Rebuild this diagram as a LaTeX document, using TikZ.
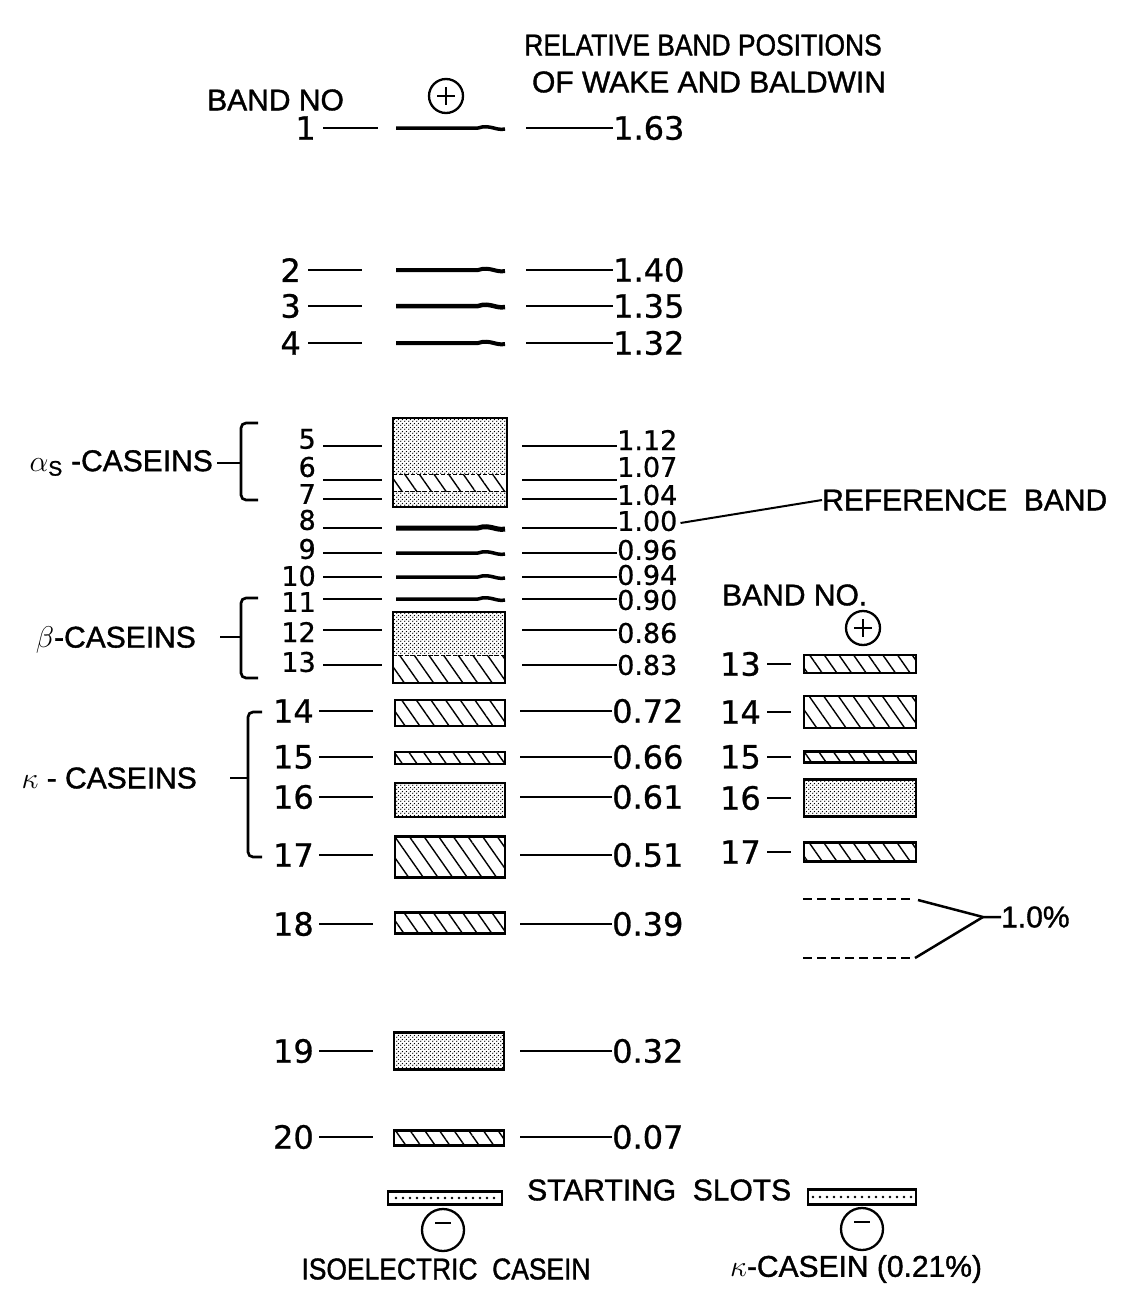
\RequirePackage{fix-cm}
\documentclass[tikz,border=0pt]{standalone}
\usepackage{fontspec}
\setmainfont{Liberation Sans}[FakeBold=1.2]
\newfontfamily\wordfont{Liberation Sans}[FakeBold=1.2]
\newfontfamily\condfont{Liberation Sans}[FakeStretch=0.88, FakeBold=1.2]
\newfontfamily\numfont{DejaVu Sans}[FakeBold=0.8]
\usetikzlibrary{patterns.meta, calc}

\tikzdeclarepattern{
  name=stipple,
  type=uncolored,
  bounding box={(0pt,0pt) and (4pt,4pt)},
  tile size={(4pt,4pt)},
  code={
    \fill (1pt,1pt) circle (0.8pt);
    \fill (3pt,3pt) circle (0.8pt);
  }
}

\begin{document}
\begin{tikzpicture}[
    x=1pt, y=-1pt,
    word/.style={font=\wordfont\fontsize{30}{34}\selectfont, inner sep=0pt},
    cword/.style={font=\condfont\fontsize{30}{34}\selectfont, inner sep=0pt},
    num/.style={font=\numfont\fontsize{32}{34}\selectfont, inner sep=0pt},
    numsm/.style={font=\numfont\fontsize{27}{28}\selectfont, inner sep=0pt},
    lead/.style={line width=2.5pt},
    bandline/.style={line width=4pt},
    hatchbox/.style={rectangle, draw, line width=2.7pt, minimum width=110pt, pattern={Lines[angle=-55, distance=12pt, line width=1.4pt]}},
    dotbox/.style={rectangle, draw, line width=2.7pt, minimum width=110pt, pattern=stipple},
    brk/.style={line width=2.7pt, rounded corners=5pt},
    pole/.style={circle, draw, line width=2.3pt, minimum size=34pt, inner sep=0pt},
    anode/.style={pole, path picture={\draw[line width=2.3pt] ($(path picture bounding box.center)+(-9,0)$) -- ++(18,0) ($(path picture bounding box.center)+(0,-9)$) -- ++(0,18);}},
    cathode/.style={pole, minimum size=42pt, path picture={\draw[line width=2.3pt] ($(path picture bounding box.center)+(-8,-7)$) -- ++(16,0);}},
    slot/.style={rectangle, draw, line width=2.5pt, path picture={\foreach \i in {-7,...,7} \fill ($(path picture bounding box.center)+(\i*7,0)$) circle (1.3pt);}},
    dashln/.style={line width=2.5pt, dash pattern=on 9pt off 5pt}
]
    \useasboundingbox (0,0) rectangle (1122,1298);

    \node[cword] (t1) at (703,45) {RELATIVE BAND POSITIONS};
    \node[word] (t2) at (709,82) {OF WAKE AND BALDWIN};
    \node[word, anchor=west] (bn1) at (207,100) {BAND NO};
    \node[anode] (p1) at (446,96) {};

    \foreach \n/\y/\lx/\ax/\v in {1/128/316/378/1.63, 2/270/301/362/1.40, 3/306/301/362/1.35, 4/343/301/362/1.32}{
        \node[num, anchor=east] (l\n) at (\lx,\y) {\n};
        \node[num, anchor=west] (v\n) at (613,\y) {\v};
        \coordinate (a\n) at (\ax,\y);
        \coordinate (c\n) at (526,\y);
        \draw[lead] (l\n.east) ++(7,0) -- (a\n);
        \draw[lead] (c\n) -- (v\n.west);
    }

    \foreach \n/\y/\ly/\vy/\v in {5/446/439/440/1.12, 6/480/467/467/1.07, 7/499/494/495/1.04, 8/528/520/521/1.00, 9/553/549/550/0.96, 10/577/576/575/0.94, 11/599/602/600/0.90, 12/630/632/633/0.86, 13/665/662/665/0.83}{
        \node[numsm, anchor=east] (l\n) at (316,\ly) {\n};
        \node[numsm, anchor=west] (v\n) at (617,\vy) {\v};
        \coordinate (a\n) at (382,\y);
        \coordinate (c\n) at (522,\y);
        \draw[lead] (l\n.east |- a\n) ++(7,0) -- (a\n);
        \draw[lead] (c\n) -- (v\n.west |- c\n);
    }

    \foreach \n/\y/\v in {14/711/0.72, 15/757/0.66, 16/797/0.61, 17/855/0.51, 18/924/0.39, 19/1051/0.32, 20/1137/0.07}{
        \node[num, anchor=east] (l\n) at (314,\y) {\n};
        \node[num, anchor=west] (v\n) at (612,\y) {\v};
        \coordinate (a\n) at (373,\y);
        \coordinate (c\n) at (520,\y);
        \draw[lead] (l\n.east) ++(5,0) -- (a\n);
        \draw[lead] (c\n) -- (v\n.west);
    }

    \foreach \y/\w in {128/3.5, 270/4, 306/4.5, 343/4, 528/5, 553/3.5, 577/3.5, 599/3.5}
        \draw[bandline, line width=\w pt] (396,\y) -- (478,\y) .. controls (490,\y-4) and (496,\y+3) .. (505,\y+1);

    \fill[pattern=stipple] (393,418) rectangle (507,474);
    \fill[pattern={Lines[angle=-55, distance=12pt, line width=1.4pt]}] (393,474) rectangle (507,491);
    \fill[pattern=stipple] (393,491) rectangle (507,507);
    \draw[line width=1pt, dash pattern=on 4pt off 2pt] (393,474) -- (507,474) (393,491) -- (507,491);
    \draw[line width=2.7pt] (393,418) rectangle (507,507);

    \fill[pattern=stipple] (393,612) rectangle (505,655);
    \fill[pattern={Lines[angle=-55, distance=12pt, line width=1.4pt]}] (393,655) rectangle (505,683);
    \draw[line width=1pt, dash pattern=on 4pt off 2pt] (393,655) -- (505,655);
    \draw[line width=2.7pt] (393,612) rectangle (505,683);

    \node[hatchbox, minimum height=26] (b14) at (450,713) {};
    \node[hatchbox, minimum height=12] (b15) at (450,758) {};
    \node[dotbox, minimum height=34] (b16) at (450,800) {};
    \node[hatchbox, minimum height=41] (b17) at (450,857) {};
    \node[hatchbox, minimum height=21] (b18) at (450,923) {};
    \node[dotbox, minimum height=37] (b19) at (449,1051) {};
    \node[hatchbox, minimum height=15] (b20) at (449,1138) {};

    \node[word, anchor=east] (as) at (213,463) {$\alpha_{\mathrm{S}}$ -CASEINS};
    \coordinate (ka) at (241,463);
    \draw[brk] (258,423) -- (241,423) -- (241,500) -- (258,500);
    \draw[lead] (as.east) ++(4,0) -- (ka);

    \node[word, anchor=east] (bc) at (196,640) {$\beta$-CASEINS};
    \coordinate (kb) at (241,637);
    \draw[brk] (258,598) -- (241,598) -- (241,678) -- (258,678);
    \draw[lead] (bc.east) ++(24,-3) -- (kb);

    \node[word, anchor=east] (kc) at (197,778) {$\kappa$ - CASEINS};
    \coordinate (kk) at (248,778);
    \draw[brk] (262,712) -- (248,712) -- (248,857) -- (262,857);
    \draw[lead] (kc.east) ++(33,0) -- (kk);

    \node[word, anchor=west] (refb) at (822,500) {REFERENCE\ \ BAND};
    \draw[lead, line width=2pt] (v8.east) ++(3,2) -- (refb.west);

    \node[word, anchor=west] (bn2) at (722,595) {BAND NO.};
    \node[anode] (p2) at (863,628) {};
    \foreach \n/\y/\h/\s in {13/664/18/hatchbox, 14/712/32/hatchbox, 15/757/11/hatchbox, 16/798/37/dotbox, 17/852/19/hatchbox}{
        \node[\s, minimum width=112, minimum height=\h] (k\n) at (860,\y) {};
        \node[num, anchor=east] (m\n) at (761,\y) {\n};
        \draw[lead] (m\n.east) ++(6,0) -- ([xshift=-12pt]k\n.west);
    }

    \coordinate (d1) at (912,899);
    \coordinate (d2) at (912,958);
    \draw[dashln] (803,899) -- (d1);
    \draw[dashln] (803,958) -- (d2);
    \node[word, anchor=west] (pct) at (1001,917) {1.0\%};
    \coordinate (jn) at (983,917);
    \draw[lead] (d1) ++(6,1) -- (jn) -- (pct.west);
    \draw[lead] (d2) ++(3,0) -- (jn);

    \node[slot, minimum width=114, minimum height=13] (s1) at (445,1198) {};
    \node[slot, minimum width=108, minimum height=15] (s2) at (862,1197) {};
    \node[word, anchor=west] (st) at (527,1190) {STARTING\ \ SLOTS};
    \node[cathode] (n1) at (443,1230) {};
    \node[cathode] (n2) at (862,1229) {};
    \node[cword] (iso) at (446,1269) {ISOELECTRIC\ \ CASEIN};
    \node[word] (kap) at (856,1269) {$\kappa$-CASEIN (0.21\%)};
\end{tikzpicture}
\end{document}
